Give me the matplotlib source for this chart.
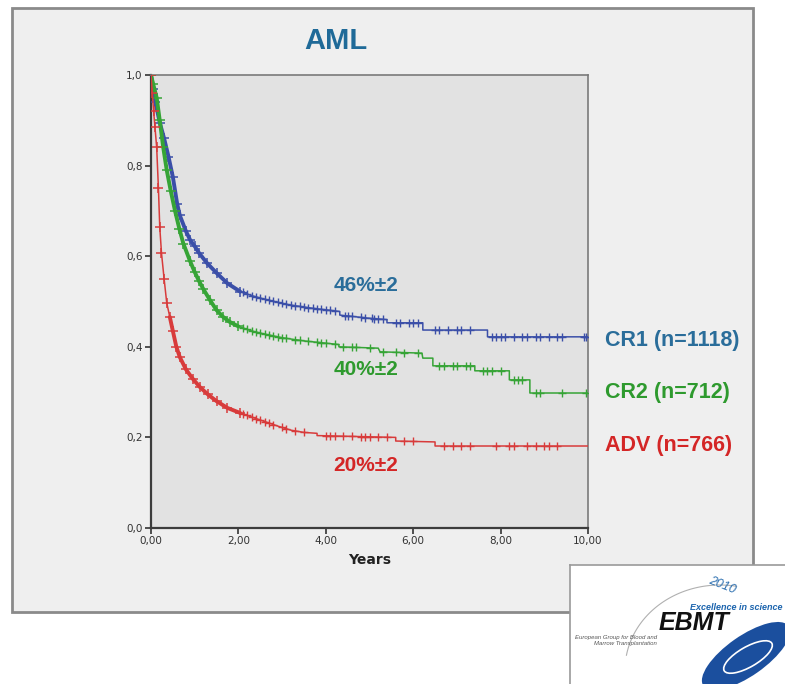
import matplotlib
matplotlib.use('Agg')
import matplotlib.pyplot as plt
import numpy as np
from matplotlib.patches import Rectangle, Ellipse

# ---- curve vertices (Kaplan-Meier, AML) ----
# repeated times mark the visible vertical steps of the later part
cr1_t = [0, 0.05, 0.1, 0.2, 0.3, 0.4, 0.5, 0.6, 0.66, 0.8, 0.9, 1.0, 1.1, 1.28, 1.5, 1.75,
         2.04, 2.3, 2.6, 3.0, 3.2, 3.7, 4.32, 4.32, 5.0, 5.4, 5.4, 6.22, 6.22, 7.7, 7.7, 10.0]
cr1_s = [1.0, 0.97, 0.94, 0.895, 0.86, 0.82, 0.775, 0.715, 0.69, 0.655, 0.635, 0.622, 0.607,
         0.585, 0.563, 0.54, 0.522, 0.513, 0.505, 0.496, 0.492, 0.485, 0.478, 0.47, 0.463, 0.46,
         0.453, 0.453, 0.437, 0.437, 0.422, 0.422]
cr1_cens = [2.1, 2.2, 2.3, 2.4, 2.5, 2.6, 2.7, 2.8, 2.9, 3.0, 3.1, 3.2, 3.3, 3.4, 3.5, 3.6,
            3.7, 3.8, 3.9, 4.0, 4.1, 4.2, 4.45, 4.5, 4.6, 4.8, 4.9, 5.05, 5.1, 5.2, 5.3,
            5.6, 5.7, 5.9, 6.0, 6.1, 6.5, 6.6, 6.8, 7.0, 7.1, 7.3, 7.8, 7.9, 8.0, 8.1, 8.3, 8.5,
            8.6, 8.8, 8.9, 9.1, 9.3, 9.4, 9.9, 9.95]

cr2_t = [0, 0.05, 0.13, 0.2, 0.28, 0.36, 0.45, 0.55, 0.65, 0.74, 0.89, 1.0, 1.1, 1.2, 1.35,
         1.5, 1.65, 1.8, 2.0, 2.3, 2.6, 3.0, 3.5, 4.3, 4.3, 5.2, 5.24, 6.2, 6.22, 6.45, 6.45,
         7.41, 7.41, 8.2, 8.2, 8.67, 8.67, 10.0]
cr2_s = [1.0, 0.98, 0.95, 0.9, 0.84, 0.79, 0.745, 0.70, 0.66, 0.628, 0.59, 0.565, 0.545, 0.527,
         0.503, 0.481, 0.466, 0.455, 0.445, 0.435, 0.428, 0.42, 0.413, 0.405, 0.40, 0.397, 0.389,
         0.386, 0.375, 0.375, 0.358, 0.358, 0.347, 0.347, 0.327, 0.327, 0.298, 0.298]
cr2_cens = [2.1, 2.2, 2.3, 2.4, 2.5, 2.6, 2.7, 2.8, 2.9, 3.0, 3.1, 3.3, 3.4, 3.6, 3.8, 3.9,
            4.0, 4.2, 4.4, 4.6, 4.7, 5.0, 5.3, 5.6, 5.8,
            6.1, 6.6, 6.7, 6.9, 7.0, 7.2, 7.3, 7.6, 7.7, 7.8, 8.0, 8.3, 8.4, 8.5, 8.8, 8.9, 9.4, 9.95]

adv_t = [0, 0.03, 0.06, 0.09, 0.13, 0.17, 0.2, 0.24, 0.3, 0.36, 0.43, 0.5, 0.58, 0.66, 0.8,
         0.95, 1.12, 1.3, 1.5, 1.75, 2.04, 2.3, 2.6, 2.9, 3.2, 3.5, 3.8, 3.8, 5.6, 5.6, 6.5, 6.5, 10.0]
adv_s = [1.0, 0.96, 0.92, 0.886, 0.84, 0.75, 0.665, 0.607, 0.55, 0.497, 0.466, 0.435, 0.40,
         0.377, 0.35, 0.33, 0.311, 0.295, 0.28, 0.265, 0.254, 0.245, 0.235, 0.225, 0.216, 0.211,
         0.209, 0.204, 0.2, 0.192, 0.19, 0.181, 0.181]
adv_cens = [2.1, 2.2, 2.3, 2.4, 2.5, 2.6, 2.7, 2.8, 3.0, 3.1, 3.3, 3.5, 4.0, 4.1, 4.2, 4.4, 4.6,
            4.8, 4.9, 5.0, 5.2, 5.4, 5.8, 6.0, 6.7, 6.9, 7.1, 7.3, 7.9, 8.2, 8.3, 8.6, 8.8, 9.0, 9.1, 9.3]

groups = ['CR1 (n=1118)', 'CR2 (n=712)', 'ADV (n=766)']
estimates = ['46%\u00b12', '40%\u00b12', '20%\u00b12']
line_colors = ['#3b4fa8', '#36a436', '#d83b3b']
text_colors = ['#2a6d9a', '#2e9a2e', '#d42626']

x_ticks = [0, 2, 4, 6, 8, 10]
y_ticks = [0, 0.2, 0.4, 0.6, 0.8, 1.0]

W, H = 785, 684
fig = plt.figure(figsize=(W / 100, H / 100), dpi=100)
fig.patch.set_facecolor('white')

# outer grey panel (behind the axes)
panel = Rectangle((12 / W, 1 - 612 / H), 741 / W, 604 / H, transform=fig.transFigure,
                  facecolor='#efefef', edgecolor='#8a8a8a', linewidth=2)
panel.set_zorder(-10)
fig.add_artist(panel)

fig.text(336 / W, 1 - 41 / H, 'AML', ha='center', va='center', fontsize=21,
         fontweight='bold', color='#1f6a98', family='Liberation Sans')

ax = fig.add_axes([151 / W, 1 - 528 / H, 437 / W, 453 / H])
ax.set_facecolor('#e2e2e2')
ax.set_xlim(0, 10)
ax.set_ylim(0, 1.0)

series = [(cr1_t, cr1_s, cr1_cens), (cr2_t, cr2_s, cr2_cens), (adv_t, adv_s, adv_cens)]
band_from = [0.0, 0.0, 0.4]   # where the dense censor band starts for each group
for (t, s, cens), lc, b0 in zip(series, line_colors, band_from):
    t = np.array(t)
    s = np.array(s)
    ax.plot(t, s, color=lc, lw=1.1, zorder=3)
    # heavy censoring in the first years shows as a thick marked band
    band = (t >= b0) & (t <= 2.1)
    ax.plot(t[band], s[band], color=lc, lw=2.8, solid_capstyle='round', zorder=3)
    early = t <= 2.1
    ax.plot(t[early], s[early], ls='none', marker='+', ms=7, mew=1.1, color=lc, zorder=3)
    c = np.array(cens)
    ax.plot(c, np.interp(c, t, s), ls='none', marker='+', ms=5.5, mew=1.0, color=lc, zorder=3)

# in-plot estimates and right-hand group labels
est_y = [0.536, 0.349, 0.139]
lab_y = [0.415, 0.300, 0.183]
for i in range(3):
    ax.text(4.92, est_y[i], estimates[i], ha='center', va='center', fontsize=15,
            fontweight='bold', color=text_colors[i], family='Liberation Sans')
    ax.text(10.38, lab_y[i], groups[i], ha='left', va='center', fontsize=15.5,
            fontweight='bold', color=text_colors[i], family='Liberation Sans', clip_on=False)

ax.set_xticks(x_ticks)
ax.set_xticklabels([('%.2f' % v).replace('.', ',') for v in x_ticks])
ax.set_yticks(y_ticks)
ax.set_yticklabels([('%.1f' % v).replace('.', ',') for v in y_ticks])
ax.tick_params(direction='out', length=4, width=1.2, labelsize=7.5, colors='#333333', pad=2)
ax.set_xlabel('Years', fontsize=10, fontweight='bold', color='#222222', labelpad=5)
for side in ['left', 'bottom']:
    ax.spines[side].set_color('#3c3c3c')
    ax.spines[side].set_linewidth(1.6)
for side in ['top', 'right']:
    ax.spines[side].set_color('#7a7a7a')
    ax.spines[side].set_linewidth(1.2)

# EBMT logo box, bottom right
lg = fig.add_axes([570 / W, 0, 215 / W, 119 / H])
lg.set_zorder(5)
lg.set_xlim(0, 215)
lg.set_ylim(119, 0)
lg.set_facecolor('white')
lg.set_xticks([])
lg.set_yticks([])
for side in ['right', 'bottom']:
    lg.spines[side].set_visible(False)
for side in ['left', 'top']:
    lg.spines[side].set_color('#9a9a9a')
    lg.spines[side].set_linewidth(1.2)

ang = np.linspace(np.radians(190), np.radians(280), 60)
lg.plot(150 + 95 * np.cos(ang), 105 + 85 * np.sin(ang), color='#b0b0b0', lw=0.8)
lg.add_patch(Ellipse((176, 91), 104, 40, angle=-35, facecolor='#1b4f9e', edgecolor='none'))
lg.add_patch(Ellipse((178, 92), 55, 20, angle=-30, facecolor='none', edgecolor='white', lw=1.2))
lg.text(152, 20, '2010', fontsize=9, style='italic', color='#2c6fb0', rotation=-22,
        ha='center', va='center', family='Liberation Sans')
lg.text(212, 43, 'Excellence in science', fontsize=6.5, style='italic', fontweight='bold',
        color='#1a63ad', ha='right', va='center', family='Liberation Sans')
lg.text(124, 58, 'EBMT', fontsize=18, style='italic', fontweight='bold', color='#111111',
        ha='center', va='center', family='Liberation Sans')
lg.text(87, 72, 'European Group for Blood and', fontsize=4.3, style='italic', color='#555555',
        ha='right', va='center', family='Liberation Sans')
lg.text(87, 79, 'Marrow Transplantation', fontsize=4.3, style='italic', color='#555555',
        ha='right', va='center', family='Liberation Sans')

fig.savefig('out.png', dpi=100)
